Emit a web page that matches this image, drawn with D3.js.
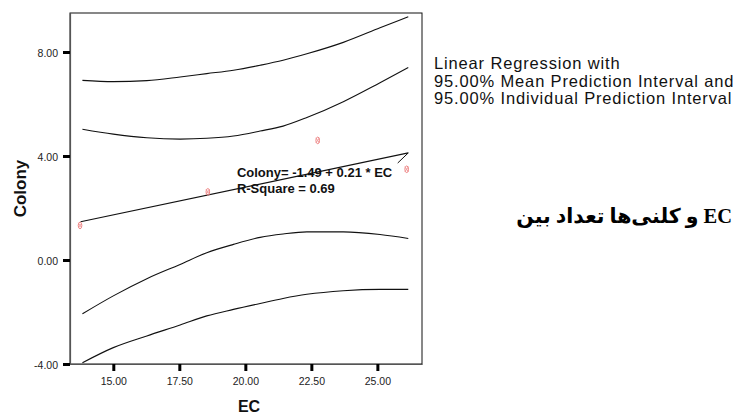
<!DOCTYPE html>
<html>
<head>
<meta charset="utf-8">
<script src="https://cdn.jsdelivr.net/npm/d3@7"></script>
<style>
  html, body { margin: 0; padding: 0; background: #fff; }
  svg { display: block; }
</style>
</head>
<body>
<script>
// ---------- data ----------
const ecTicks = [15, 17.5, 20, 22.5, 25];
const colonyTicks = [-4, 0, 4, 8];

const pointEC = [13.74, 18.58, 22.74, 26.11];
const pointColony = [1.33, 2.62, 4.60, 3.49];

const curveEC = [13.83, 15.0, 16.27, 17.53, 18.54, 19.55, 20.56, 21.43, 22.33, 23.71, 25.10, 26.17];
const upperIndividual = [6.91, 6.86, 6.90, 7.04, 7.17, 7.30, 7.49, 7.68, 7.93, 8.37, 8.93, 9.36];
const upperMean = [5.03, 4.84, 4.70, 4.65, 4.68, 4.77, 4.96, 5.15, 5.48, 6.09, 6.82, 7.40];
const lowerMean = [-2.07, -1.38, -0.72, -0.17, 0.28, 0.60, 0.87, 1.00, 1.08, 1.08, 0.98, 0.83];
const lowerIndividual = [-3.95, -3.37, -2.92, -2.50, -2.15, -1.90, -1.67, -1.48, -1.32, -1.18, -1.13, -1.13];

const fitEC = [13.76, 26.17];
const fitColony = [1.47, 4.12];

const leaderEC = [26.17, 25.77];
const leaderColony = [4.12, 3.73];

const equationAnchor = [19.68, 3.19];
const equationLines = ["Colony= -1.49 + 0.21 * EC", "R-Square = 0.69"];

const xTitle = "EC";
const yTitle = "Colony";
const legendLines = [
  "Linear Regression with",
  "95.00% Mean Prediction Interval and",
  "95.00% Individual Prediction Interval"
];
// Persian caption, words in the visual left-to-right order of the reference
const captionWords = ["بین", "تعداد", "کلنی\u200Cها", "و", "EC"];

// ---------- drawing ----------
const W = 736, H = 417;
const svg = d3.select("body").append("svg").attr("width", W).attr("height", H);

const x = d3.scaleLinear().domain([13.36, 26.69]).range([70, 422]);
const y = d3.scaleLinear().domain([-4, 9.5]).range([364, 13]);

const sans = "'Liberation Sans', Arial, Helvetica, sans-serif";

// frame
svg.append("rect")
  .attr("x", x.range()[0]).attr("y", y.range()[1])
  .attr("width", x.range()[1] - x.range()[0])
  .attr("height", y.range()[0] - y.range()[1])
  .attr("fill", "none").attr("stroke", "#111").attr("stroke-width", 1);

// y axis
const yAxis = svg.append("g")
  .attr("transform", `translate(${x.range()[0]},0)`)
  .call(d3.axisLeft(y).tickValues(colonyTicks).tickFormat(d => d.toFixed(2))
        .tickSizeInner(7).tickSizeOuter(0).tickPadding(5));
yAxis.select(".domain").attr("stroke", "#555").attr("stroke-width", 1.2);
yAxis.selectAll(".tick line").attr("stroke", "#000").attr("stroke-width", 3);
yAxis.selectAll(".tick text").attr("font-family", sans).attr("font-size", 10.5)
  .attr("fill", "#222").attr("dy", "0.45em");

// x axis
const xAxis = svg.append("g")
  .attr("transform", `translate(0,${y.range()[0]})`)
  .call(d3.axisBottom(x).tickValues(ecTicks).tickFormat(d => d.toFixed(2))
        .tickSizeInner(7).tickSizeOuter(0).tickPadding(6.5));
xAxis.select(".domain").attr("stroke", "#555").attr("stroke-width", 1.2);
xAxis.selectAll(".tick line").attr("stroke", "#000").attr("stroke-width", 3);
xAxis.selectAll(".tick text").attr("font-family", sans).attr("font-size", 10.5).attr("fill", "#222");

// curves
const line = d3.line().x(d => x(d[0])).y(d => y(d[1])).curve(d3.curveMonotoneX);
[upperIndividual, upperMean, lowerMean, lowerIndividual].forEach(series => {
  svg.append("path")
    .attr("d", line(curveEC.map((e, i) => [e, series[i]])))
    .attr("fill", "none").attr("stroke", "#111").attr("stroke-width", 1.1);
});

// fit line
svg.append("path")
  .attr("d", d3.line().x(d => x(d[0])).y(d => y(d[1]))(fitEC.map((e, i) => [e, fitColony[i]])))
  .attr("fill", "none").attr("stroke", "#111").attr("stroke-width", 1.1);

// leader line
svg.append("path")
  .attr("d", d3.line().x(d => x(d[0])).y(d => y(d[1]))(leaderEC.map((e, i) => [e, leaderColony[i]])))
  .attr("fill", "none").attr("stroke", "#111").attr("stroke-width", 1);

// points
const pts = svg.append("g").selectAll("g").data(pointEC.map((e, i) => [e, pointColony[i]]))
  .join("g").attr("transform", d => `translate(${x(d[0])},${y(d[1])})`);
pts.append("ellipse").attr("rx", 1.8).attr("ry", 3.3)
  .attr("fill", "none").attr("stroke", "#ee7f7f").attr("stroke-width", 1);
pts.append("path").attr("d", "M-1.8,-2.6L1.8,2.6M1.8,-2.6L-1.8,2.6")
  .attr("stroke", "#f19a9a").attr("stroke-width", 0.9);

// equation
const eq = svg.append("text")
  .attr("x", x(equationAnchor[0])).attr("y", y(equationAnchor[1]))
  .attr("font-family", sans).attr("font-weight", "bold").attr("font-size", 13).attr("fill", "#111");
equationLines.forEach((t, i) => {
  eq.append("tspan").attr("x", x(equationAnchor[0])).attr("dy", i === 0 ? 0 : 16).text(t);
});

// axis titles
svg.append("text")
  .attr("x", (x.range()[0] + x.range()[1]) / 2 + 3).attr("y", 412)
  .attr("text-anchor", "middle").attr("font-family", sans).attr("font-weight", "bold")
  .attr("font-size", 16).attr("fill", "#111").text(xTitle);

svg.append("text")
  .attr("transform", `translate(26,${(y.range()[0] + y.range()[1]) / 2}) rotate(-90)`)
  .attr("text-anchor", "middle").attr("font-family", sans).attr("font-weight", "bold")
  .attr("font-size", 17).attr("fill", "#111").text(yTitle);

// legend text
const lg = svg.append("text").attr("font-family", sans).attr("font-size", 16.5)
  .attr("letter-spacing", 0.85).attr("fill", "#111");
legendLines.forEach((t, i) => {
  lg.append("tspan").attr("x", 434).attr("y", 69 + i * 17.5).text(t);
});

// caption (Persian), laid out word by word from the right edge
let right = 732;
const capG = svg.append("g");
for (let i = captionWords.length - 1; i >= 0; i--) {
  const t = capG.append("text")
    .attr("x", right).attr("y", 223)
    .attr("text-anchor", "end")
    .attr("font-family", "'Liberation Serif', 'DejaVu Sans', serif")
    .attr("font-weight", "bold").attr("font-size", 20.5).attr("fill", "#000")
    .text(captionWords[i]);
  right -= t.node().getComputedTextLength() + 5;
}
</script>
</body>
</html>
